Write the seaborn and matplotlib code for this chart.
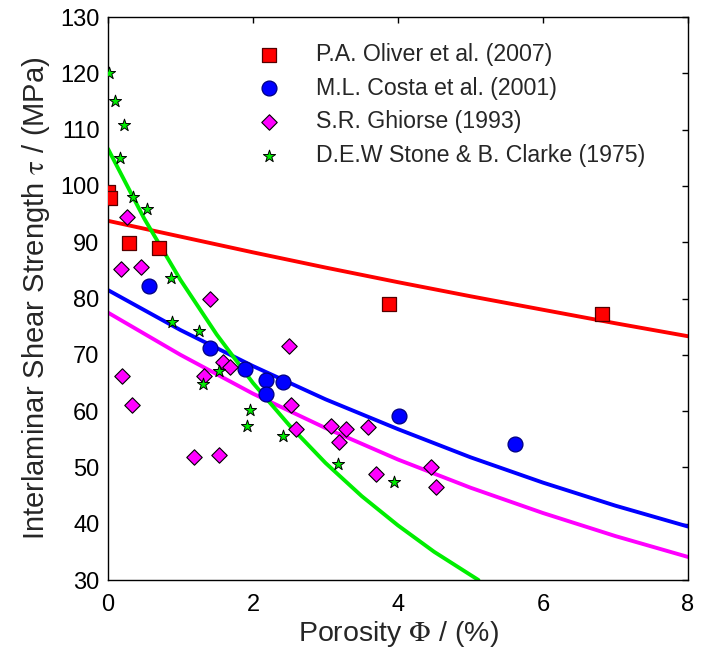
import numpy as np
import pandas as pd
import matplotlib
matplotlib.use("Agg")
import matplotlib.pyplot as plt
import seaborn as sns

# ---- data ----
oliver_x = [0.00, 0.03, 0.29, 0.70, 3.88, 6.82]
oliver_y = [99.0, 97.9, 89.8, 88.9, 79.1, 77.2]

costa_x = [0.56, 1.41, 1.89, 2.18, 2.41, 2.18, 4.01, 5.61]
costa_y = [82.2, 71.2, 67.5, 65.5, 65.2, 63.1, 59.1, 54.1]

ghiorse_x = [0.26, 0.18, 0.46, 1.41, 2.49, 1.59, 1.69, 0.20, 1.32, 0.33, 2.53,
             2.59, 3.08, 3.28, 3.59, 3.18, 1.19, 1.53, 3.70, 4.45, 4.52]
ghiorse_y = [94.5, 85.3, 85.6, 80.0, 71.5, 68.7, 67.8, 66.2, 66.2, 61.1, 61.1,
             56.9, 57.4, 56.9, 57.2, 54.5, 51.8, 52.2, 48.8, 50.1, 46.5]

stone_x = [0.02, 0.10, 0.22, 0.17, 0.35, 0.54, 0.87, 0.89, 1.26, 1.53, 1.31,
           1.96, 1.92, 2.41, 3.17, 3.94]
stone_y = [120.0, 115.0, 110.9, 105.0, 98.0, 95.9, 83.7, 75.9, 74.2, 67.2, 64.9,
           60.2, 57.4, 55.5, 50.6, 47.5]

# model curves
curve_x = [0, 1, 2, 3, 4, 5, 6, 7, 8]
red_curve = [93.8, 91.0, 88.2, 85.5, 82.9, 80.4, 78.0, 75.6, 73.3]
blue_curve = [81.5, 74.4, 68.0, 62.1, 56.8, 51.8, 47.3, 43.2, 39.5]
mag_curve = [77.5, 70.0, 63.1, 57.0, 51.4, 46.4, 41.9, 37.8, 34.1]

green_x = [0, 0.5, 1, 1.5, 2, 2.5, 3, 3.5, 4, 4.5, 5.11]
green_y = [106.6, 94.2, 83.3, 73.6, 65.0, 57.5, 50.8, 44.9, 39.7, 35.0, 30.0]

labels = ["P.A. Oliver et al. (2007)", "M.L. Costa et al. (2001)",
          "S.R. Ghiorse (1993)", "D.E.W Stone & B. Clarke (1975)"]

sns.set_style("white")
plt.rcParams['font.family'] = ['Liberation Sans', 'DejaVu Sans']
plt.rcParams['mathtext.fontset'] = 'stix'

fig = plt.figure(figsize=(7.01, 6.54), dpi=100)
ax = fig.add_axes([0.154, 0.1131, 0.8275, 0.8609])

lw = 2.8
sns.lineplot(x=curve_x, y=red_curve, ax=ax, color="#ff0000", lw=lw, zorder=2)
sns.lineplot(x=curve_x, y=blue_curve, ax=ax, color="#0000ff", lw=lw, zorder=2)
sns.lineplot(x=curve_x, y=mag_curve, ax=ax, color="#ff00ff", lw=lw, zorder=2)
sns.lineplot(x=green_x, y=green_y, ax=ax, color="#00ee00", lw=lw, zorder=2)

sns.scatterplot(x=oliver_x, y=oliver_y, ax=ax, marker="s", s=105, color="#ff0000",
                edgecolor="#550000", linewidth=0.9, label=labels[0], zorder=3)
sns.scatterplot(x=costa_x, y=costa_y, ax=ax, marker="o", s=115, color="#0000ff",
                edgecolor="#000080", linewidth=0.9, label=labels[1], zorder=3)
sns.scatterplot(x=ghiorse_x, y=ghiorse_y, ax=ax, marker="D", s=62, color="#ff00ff",
                edgecolor="#000000", linewidth=0.8, label=labels[2], zorder=3)
sns.scatterplot(x=stone_x, y=stone_y, ax=ax, marker="*", s=85, color="#00ee00",
                edgecolor="#000000", linewidth=0.7, label=labels[3], zorder=3)

ax.set_xlim(0, 8)
ax.set_ylim(30, 130)
ax.set_xticks([0, 2, 4, 6, 8])
ax.set_yticks(np.arange(30, 131, 10))
ax.tick_params(direction="in", length=4, width=1, top=True, right=True,
               labelsize=17, colors="black")
ax.tick_params(axis="y", pad=6)
ax.tick_params(axis="x", pad=10)
for sp in ax.spines.values():
    sp.set_color("black")
    sp.set_linewidth(1)

ax.set_xlabel("Porosity $\\Phi$ / (%)", fontsize=20.5, labelpad=2)
ax.set_ylabel("Interlaminar Shear Strength $\\mathrm{\\tau}$ / (MPa)", fontsize=21,
              labelpad=6)

leg = ax.legend(loc="upper left", bbox_to_anchor=(0.222, 0.971), frameon=False,
                fontsize=16.7, handletextpad=1.0, labelspacing=0.47, borderaxespad=0,
                handlelength=2.0)

fig.savefig("out.png", dpi=100)
